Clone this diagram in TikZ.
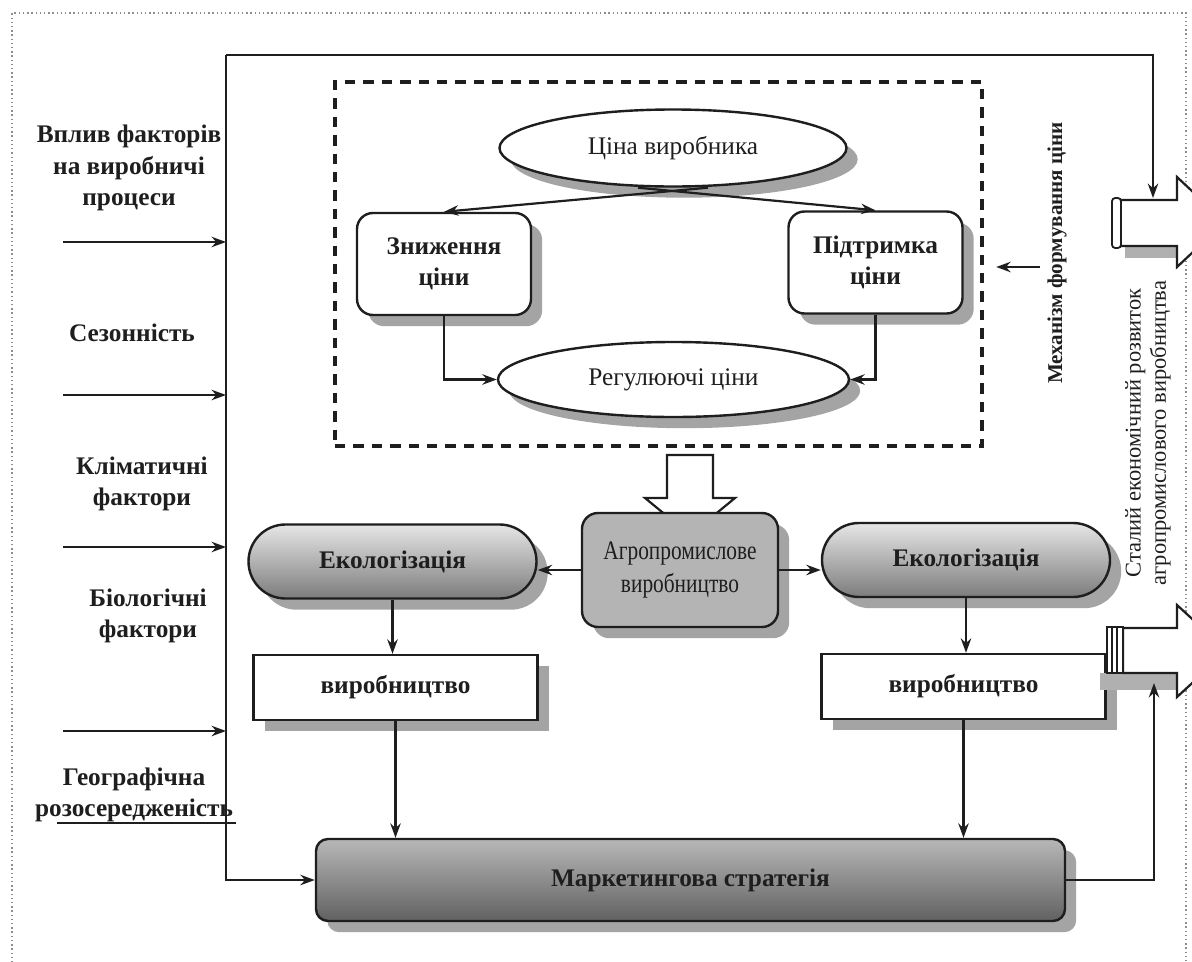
\documentclass[tikz,border=0pt]{standalone}
\usepackage{fontspec}
\setmainfont{Liberation Serif}
\newfontfamily\narrowserif[FakeStretch=0.8]{Liberation Serif}
\definecolor{APInk}{HTML}{1E1E1E}
\definecolor{APShade}{HTML}{8E8E8E}
\definecolor{APLight}{HTML}{E6E6E6}
\definecolor{APDark}{HTML}{7C7C7C}
\definecolor{APFill}{HTML}{B4B4B4}
\usetikzlibrary{positioning,shapes.geometric,shapes.misc,arrows.meta,shadows,calc}

\begin{document}
\begin{tikzpicture}[x=0.25mm, y=-0.25mm, APInk, font=\fontsize{18}{22.5}\selectfont,
  arr/.style={-{Stealth[length=3.6mm,width=2.6mm]}, line width=0.55mm},
  shd/.style={drop shadow={shadow xshift=2.8mm, shadow yshift=-2.8mm, fill=APShade, opacity=0.8}},
  lbl/.style={align=center, font=\fontsize{18}{22.5}\selectfont\bfseries},
  pricebox/.style={draw, line width=0.6mm, rounded corners=4mm, fill=white, shd, inner sep=0pt, align=center,
    minimum width=43.5mm, minimum height=25.5mm, font=\fontsize{18}{22.5}\selectfont\bfseries},
  priceoval/.style={draw, line width=0.6mm, ellipse, fill=white, shd, inner sep=0pt},
  ecopill/.style={draw, line width=0.6mm, rounded rectangle, top color=APLight, bottom color=APDark, shd,
    minimum width=72mm, minimum height=18.5mm, inner sep=0pt, font=\fontsize{18}{22.5}\selectfont\bfseries},
  prodbox/.style={draw, line width=0.6mm, fill=white, shd, minimum width=71mm, minimum height=16.25mm,
    inner sep=0pt, font=\fontsize{18}{22.5}\selectfont\bfseries}]
  \useasboundingbox (0,0) rectangle (1192,962);
  \fill[white] (0,0) rectangle (1192,962);
  \draw[APShade, line width=0.35mm, dotted] (12,975) -- (12,13) -- (1186,13) -- (1186,975);

  \coordinate (fr) at (226,55);
  \coordinate (inA) at (1153,198);
  \coordinate (inB) at (1154,683);

  \node[lbl] (vplyv) at (129,168) {Вплив факторів\\на виробничі\\процеси};
  \node[lbl] (sezon) at (132,333) {Сезонність};
  \node[lbl] (klimat) at (142,484) {Кліматичні\\фактори};
  \node[lbl] (biol) at (148,616) {Біологічні\\фактори};
  \node[lbl] (geogr) at (134,795) {Географічна\\розосередженість};
  \foreach \y [count=\i] in {242,395,547,731} {
    \coordinate (in\i) at (63,\y);
    \draw[arr] (in\i) -- (in\i -| fr);
  }
  \coordinate (geo) at (57,823);
  \draw[line width=0.55mm] (geo) -- ++(179,0);

  \node[draw, line width=1.1mm, dash pattern=on 2.6mm off 2mm, minimum width=161.75mm, minimum height=91mm] (mech) at (658.5,264) {};
  \node[priceoval, minimum width=86.75mm, minimum height=19.25mm] (cina) at (673,148) {Ціна виробника};
  \node[pricebox] (znyzh) at (444,264) {Зниження\\ціни};
  \node[pricebox] (pidtr) at (875.5,262.5) {Підтримка\\ціни};
  \node[priceoval, minimum width=87.75mm, minimum height=18.75mm] (reg) at (673.5,379.5) {Регулюючі ціни};
  \draw[arr] ($(cina.south)+(35,0)$) -- (znyzh.north);
  \draw[arr] ($(cina.south)+(-35,0)$) -- (pidtr.north);
  \draw[arr] (znyzh.south) |- (reg.west);
  \draw[arr] (pidtr.south) |- (reg.east);

  \coordinate (mlab) at (1040,267);
  \draw[arr, shorten >=3mm] (mlab) -- (mlab -| mech.east);
  \node[rotate=90, font=\fontsize{15}{18}\selectfont\bfseries] (mehan) at (1057,253) {Механізм формування ціни};
  \node[rotate=90, align=center, font=\fontsize{16}{18}\selectfont] (stalyi) at (1148,433) {Сталий економічний розвиток\\агропромислового виробництва};

  \draw[line width=0.55mm, fill=white] (667,455) -- (713,455) -- (713,498) -- (735,498) -- (690,535) -- (645,498) -- (667,498) -- cycle;
  \node[draw, line width=0.6mm, rounded corners=4mm, fill=APFill, shd, minimum width=49mm, minimum height=28.5mm,
    inner sep=0pt, align=center, font=\fontsize{19}{23}\narrowserif] (agro) at (680,570) {Агропромислове\\виробництво};
  \node[ecopill] (ekoL) at (392.5,561.5) {Екологізація};
  \node[ecopill] (ekoR) at (966,560) {Екологізація};
  \draw[arr] (agro.west) -- (agro.west -| ekoL.east);
  \draw[arr] (agro.east) -- (agro.east -| ekoR.west);

  \node[prodbox] (virL) at (395.5,687.5) {виробництво};
  \node[prodbox] (virR) at (963.5,686.5) {виробництво};
  \draw[arr] (ekoL.south) -- (ekoL.south |- virL.north);
  \draw[arr] (ekoR.south) -- (ekoR.south |- virR.north);

  \node[draw, line width=0.6mm, rounded corners=3mm, top color=black!28, middle color=black!40, bottom color=black!62, shd,
    minimum width=187.25mm, minimum height=20.5mm, font=\fontsize{18}{22.5}\selectfont\bfseries] (mkt) at (690.5,880) {Маркетингова стратегія};
  \draw[arr] (virL.south) -- (virL.south |- mkt.north);
  \draw[arr] (virR.south) -- (virR.south |- mkt.north);

  \draw[arr] (fr) -| (inA);
  \draw[arr] (fr) |- (mkt.west);

  \fill[APShade!70] (1125,246) rectangle (1177,258);
  \draw[line width=0.55mm, fill=white] (1120,200) -- (1177,200) -- (1177,177) -- (1225,222) -- (1177,267) -- (1177,246) -- (1120,246) -- cycle;
  \draw[line width=0.45mm, fill=white, rounded corners=0.8mm] (1112,198) rectangle (1121,248);

  \fill[APShade!70] (1100,673) rectangle (1177,690);
  \draw[line width=0.55mm, fill=white] (1123,628) -- (1177,628) -- (1177,605) -- (1227,651) -- (1177,697) -- (1177,673) -- (1123,673) -- cycle;
  \draw[line width=0.45mm, fill=white] (1107,627) rectangle (1123,673);
  \draw[line width=0.3mm] (1112,627) -- (1112,673) (1117,627) -- (1117,673);
  \draw[arr] (mkt.east) -| (inB);
\end{tikzpicture}
\end{document}
